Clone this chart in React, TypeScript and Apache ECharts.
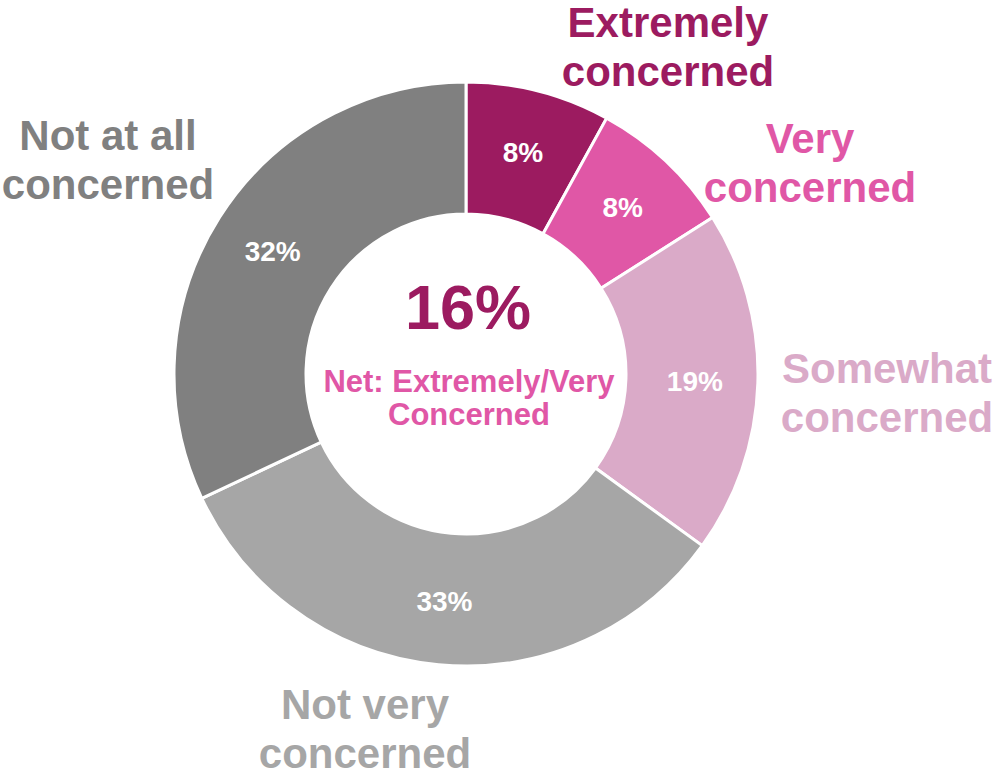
import React, { useEffect, useRef } from "react";
import * as echarts from "echarts";

const categories = [
  "Extremely\nconcerned",
  "Very\nconcerned",
  "Somewhat\nconcerned",
  "Not very\nconcerned",
  "Not at all\nconcerned",
];
const values = [8, 8, 19, 33, 32];
const colors = ["#9C1B60", "#E057A6", "#DAAAC8", "#A6A6A6", "#808080"];
const netLabel = "Net: Extremely/Very\nConcerned";

// outer label centres (layout only)
const labelPos = [
  [668, 47],
  [810, 163],
  [887, 393],
  [365, 729],
  [108, 160],
];

export default function App() {
  const ref = useRef<HTMLDivElement>(null);
  useEffect(() => {
    if (!ref.current) return;
    const chart = echarts.init(ref.current, null, { renderer: "svg" });
    const font = "'Liberation Sans', Arial, sans-serif";
    const net = values[0] + values[1];
    chart.setOption({
      animation: false,
      backgroundColor: "#ffffff",
      series: [
        {
          type: "pie",
          center: [466, 374],
          radius: [160, 292],
          startAngle: 90,
          clockwise: true,
          silent: true,
          itemStyle: { borderColor: "#ffffff", borderWidth: 3 },
          label: {
            show: true,
            position: "inside",
            formatter: (p: any) => `${p.value}%`,
            color: "#ffffff",
            fontFamily: font,
            fontWeight: "bold",
            fontSize: 28,
          },
          labelLine: { show: false },
          data: categories.map((c, i) => ({
            name: c,
            value: values[i],
            itemStyle: { color: colors[i] },
          })),
        },
        {
          type: "pie",
          center: [466, 374],
          radius: [160, 292],
          startAngle: 90,
          clockwise: true,
          silent: true,
          z: 1,
          itemStyle: { color: "transparent", borderWidth: 0 },
          label: {
            show: true,
            position: "inside",
            overflow: "none",
            formatter: (p: any) => p.name,
            fontFamily: font,
            fontWeight: "bold",
            fontSize: 42,
            lineHeight: 49,
            align: "center",
          },
          labelLine: { show: false },
          labelLayout: (p: any) => ({
            x: labelPos[p.dataIndex][0],
            y: labelPos[p.dataIndex][1],
            align: "center",
            verticalAlign: "middle",
          }),
          data: categories.map((c, i) => ({
            name: c,
            value: values[i],
            label: { color: colors[i] },
          })),
        },
      ],
      graphic: [
        {
          type: "text",
          x: 468,
          y: 307,
          style: {
            text: `${net}%`,
            fill: colors[0],
            font: `bold 63px ${font}`,
            align: "center",
            verticalAlign: "middle",
          },
        },
        {
          type: "text",
          x: 469,
          y: 398,
          style: {
            text: netLabel,
            fill: colors[1],
            font: `bold 31px ${font}`,
            lineHeight: 33,
            align: "center",
            verticalAlign: "middle",
          },
        },
      ],
    });
    return () => chart.dispose();
  }, []);
  return (
    <div
      ref={ref}
      style={{ position: "fixed", left: 0, top: 0, width: 995, height: 778 }}
    />
  );
}
